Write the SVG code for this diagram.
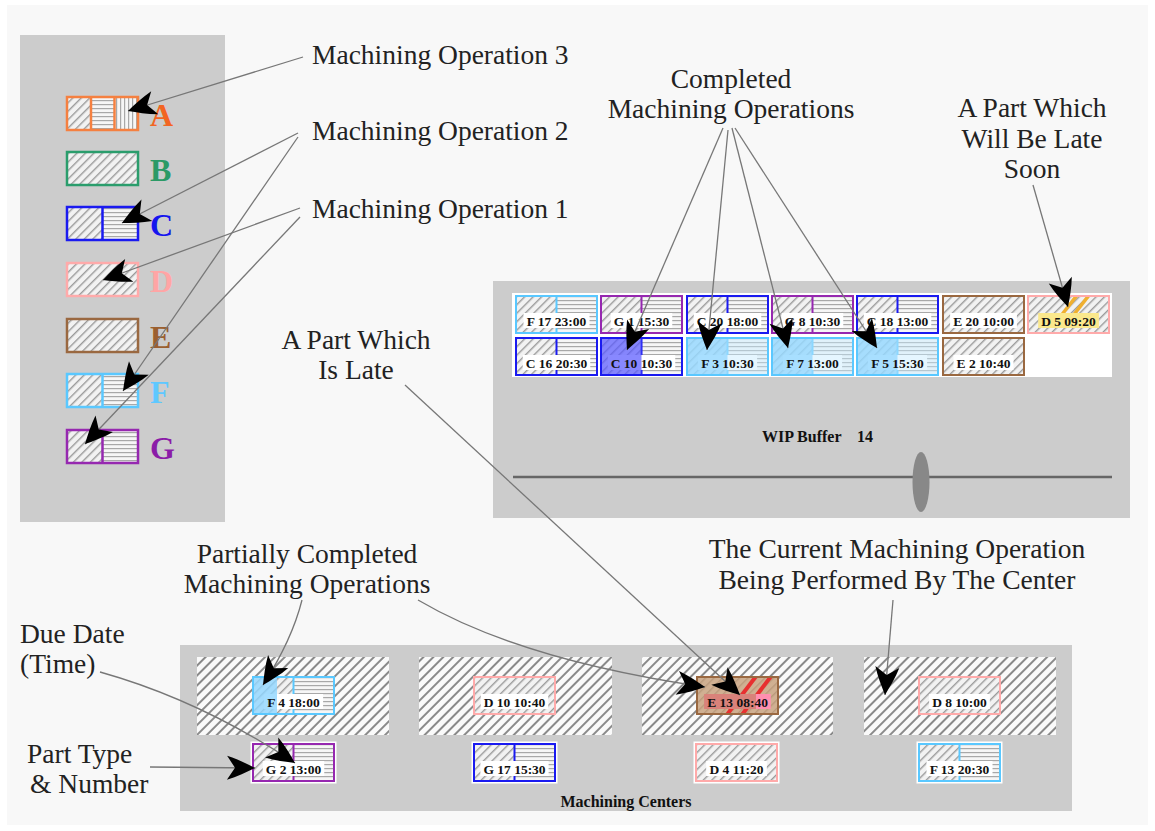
<svg xmlns="http://www.w3.org/2000/svg" xmlns:xlink="http://www.w3.org/1999/xlink" width="1155" height="831" viewBox="0 0 1155 831">
<style>
.lbl{font-family:"Liberation Serif",serif;font-size:27.5px;fill:#222}
.mid{text-anchor:middle}
.ct{font-family:"Liberation Serif",serif;font-size:13.5px;font-weight:bold;fill:#111;text-anchor:middle}
.ttl{font-family:"Liberation Serif",serif;font-size:16px;font-weight:bold;fill:#111}
.let{font-family:"Liberation Serif",serif;font-size:32px;font-weight:bold}
.bd{fill:none;stroke-width:2}
.lg{fill:none;stroke-width:2.5}
.tb{fill:#fff}
.halo{fill:#fff}
.con{fill:none;stroke:#777;stroke-width:1.3}
</style>
<defs>
<pattern id="dg" width="6" height="6" patternUnits="userSpaceOnUse" patternTransform="rotate(45)"><rect width="6" height="6" fill="#f2f2f2"/><rect width="1.4" height="6" fill="#9a9a9a"/></pattern>
<pattern id="dg2" width="7" height="7" patternUnits="userSpaceOnUse" patternTransform="rotate(45)"><rect width="7" height="7" fill="#fafafa"/><rect width="2" height="7" fill="#8a8a8a"/></pattern>
<pattern id="hz" width="4" height="4" patternUnits="userSpaceOnUse"><rect width="4" height="4" fill="#f6f6f6"/><rect width="4" height="1.2" fill="#a8a8a8"/></pattern>
<pattern id="vt" width="4" height="4" patternUnits="userSpaceOnUse"><rect width="4" height="4" fill="#f6f6f6"/><rect width="1.2" height="4" fill="#a8a8a8"/></pattern>
<g id="b1"><rect width="81" height="37" fill="url(#dg)"/></g>
<g id="b2"><rect width="40.5" height="37" fill="url(#dg)"/><rect x="40.5" width="40.5" height="37" fill="url(#hz)"/><line x1="40.5" y1="0" x2="40.5" y2="37" stroke="currentColor" stroke-width="2"/></g>
<clipPath id="clipD5"><rect x="1028" y="296" width="81" height="37"/></clipPath>
<clipPath id="clipE13"><rect x="697" y="677" width="81" height="37"/></clipPath>
<marker id="ah" viewBox="-30 -13 31 26" refX="0" refY="0" markerWidth="31" markerHeight="26" markerUnits="userSpaceOnUse" orient="auto">
<path d="M0,0 C-8,-4 -18,-9 -28,-12 L-20,0 L-28,12 C-18,9 -8,4 0,0 Z" fill="#000"/>
</marker>
</defs>

<rect width="1155" height="831" fill="#fff"/>
<rect x="7" y="5" width="1141" height="820" fill="#f8f8f8"/>

<g id="legend-panel">
<rect x="20" y="35" width="205" height="487" fill="#cccccc"/>
<g id="legend-A">
<rect x="67" y="97" width="24" height="33" fill="url(#dg)"/>
<rect x="91" y="97" width="23.5" height="33" fill="url(#hz)"/>
<rect x="114.5" y="97" width="23.5" height="33" fill="url(#vt)"/>
<line x1="91" y1="97" x2="91" y2="130" stroke="#f58040" stroke-width="2.5"/>
<line x1="114.5" y1="97" x2="114.5" y2="130" stroke="#f58040" stroke-width="2.5"/>
<rect class="lg" x="67" y="97" width="71" height="33" stroke="#f58040"/>
<text class="let" x="150" y="126" fill="#f26522">A</text>
</g>
<g id="legend-B">
<rect x="67" y="152" width="71" height="33" fill="url(#dg)"/>
<rect class="lg" x="67" y="152" width="71" height="33" stroke="#2a9d6c"/>
<text class="let" x="150" y="181" fill="#2b9a66">B</text>
</g>
<g id="legend-C">
<rect x="67" y="207" width="35.5" height="33" fill="url(#dg)"/>
<rect x="102.5" y="207" width="35.5" height="33" fill="url(#hz)"/>
<line x1="102.5" y1="207" x2="102.5" y2="240" stroke="#1a1af0" stroke-width="2.5"/>
<rect class="lg" x="67" y="207" width="71" height="33" stroke="#1a1af0"/>
<text class="let" x="150" y="236" fill="#1515ee">C</text>
</g>
<g id="legend-D">
<rect x="67" y="263" width="71" height="33" fill="url(#dg)"/>
<rect class="lg" x="67" y="263" width="71" height="33" stroke="#ffaaaa"/>
<text class="let" x="150" y="292" fill="#ffa5a5">D</text>
</g>
<g id="legend-E">
<rect x="67" y="319" width="71" height="33" fill="url(#dg)"/>
<rect class="lg" x="67" y="319" width="71" height="33" stroke="#9a6840"/>
<text class="let" x="150" y="348" fill="#9b5f2f">E</text>
</g>
<g id="legend-F">
<rect x="67" y="374" width="35.5" height="33" fill="url(#dg)"/>
<rect x="102.5" y="374" width="35.5" height="33" fill="url(#hz)"/>
<line x1="102.5" y1="374" x2="102.5" y2="407" stroke="#5ac8ff" stroke-width="2.5"/>
<rect class="lg" x="67" y="374" width="71" height="33" stroke="#5ac8ff"/>
<text class="let" x="150" y="403" fill="#5ec8ff">F</text>
</g>
<g id="legend-G">
<rect x="67" y="430" width="35.5" height="33" fill="url(#dg)"/>
<rect x="102.5" y="430" width="35.5" height="33" fill="url(#hz)"/>
<line x1="102.5" y1="430" x2="102.5" y2="463" stroke="#9628b0" stroke-width="2.5"/>
<rect class="lg" x="67" y="430" width="71" height="33" stroke="#9628b0"/>
<text class="let" x="150" y="459" fill="#8b1ca8">G</text>
</g>
</g>

<g id="wip-buffer">
<rect x="493" y="281" width="637" height="237" fill="#cccccc"/>
<rect x="512" y="293" width="600" height="84" fill="#fff"/>
<g id="wip-F17"><use href="#b2" x="516" y="296" color="#5ac8ff"/><rect class="tb" x="523.5" y="313" width="66" height="15"/><rect class="bd" x="516" y="296" width="81" height="37" stroke="#5ac8ff"/><text class="ct" x="556.5" y="326">F 17 23:00</text></g>
<g id="wip-G1"><use href="#b2" x="601" y="296" color="#9628b0"/><rect class="tb" x="610.75" y="313" width="61.5" height="15"/><rect class="bd" x="601" y="296" width="81" height="37" stroke="#9628b0"/><text class="ct" x="641.5" y="326">G 1 15:30</text></g>
<g id="wip-C20"><use href="#b2" x="687" y="296" color="#1a1af0"/><rect class="tb" x="693.75" y="313" width="67.5" height="15"/><rect class="bd" x="687" y="296" width="81" height="37" stroke="#1a1af0"/><text class="ct" x="727.5" y="326">C 20 18:00</text></g>
<g id="wip-G8"><use href="#b2" x="772" y="296" color="#9628b0"/><rect class="tb" x="781.75" y="313" width="61.5" height="15"/><rect class="bd" x="772" y="296" width="81" height="37" stroke="#9628b0"/><text class="ct" x="812.5" y="326">G 8 10:30</text></g>
<g id="wip-C18"><use href="#b2" x="857" y="296" color="#1a1af0"/><rect class="tb" x="863.75" y="313" width="67.5" height="15"/><rect class="bd" x="857" y="296" width="81" height="37" stroke="#1a1af0"/><text class="ct" x="897.5" y="326">C 18 13:00</text></g>
<g id="wip-E20"><use href="#b1" x="943" y="296"/><rect class="tb" x="950.1" y="313" width="66.8" height="15"/><rect class="bd" x="943" y="296" width="81" height="37" stroke="#9a6840"/><text class="ct" x="983.5" y="326">E 20 10:00</text></g>
<g id="wip-D5"><use href="#b1" x="1028" y="296"/>
<g clip-path="url(#clipD5)" stroke="#f0b030" stroke-width="3.5"><line x1="1060" y1="317" x2="1078" y2="294"/><line x1="1072" y1="317" x2="1090" y2="294"/></g>
<rect x="1038.2" y="313" width="60.7" height="15" fill="#fbe88c"/><rect class="bd" x="1028" y="296" width="81" height="37" stroke="#ffaaaa"/><text class="ct" x="1068.5" y="326">D 5 09:20</text></g>
<g id="wip-C16"><use href="#b2" x="516" y="338" color="#1a1af0"/><rect class="tb" x="522.75" y="355" width="67.5" height="15"/><rect class="bd" x="516" y="338" width="81" height="37" stroke="#1a1af0"/><text class="ct" x="556.5" y="368">C 16 20:30</text></g>
<g id="wip-C10"><use href="#b2" x="601" y="338" color="#1a1af0"/><rect class="tb" x="607.75" y="355" width="67.5" height="15"/><rect x="601" y="338" width="40.5" height="37" fill="#5a5aff" opacity="0.72"/><rect class="bd" x="601" y="338" width="81" height="37" stroke="#1a1af0"/><text class="ct" x="641.5" y="368">C 10 10:30</text></g>
<g id="wip-F3"><use href="#b2" x="687" y="338" color="#5ac8ff"/><rect class="tb" x="697.9" y="355" width="59.2" height="15"/><rect x="687" y="338" width="81" height="37" fill="#c6ecff" opacity="0.45"/><rect x="687" y="338" width="40.5" height="37" fill="#8fd6ff" opacity="0.7"/><rect class="bd" x="687" y="338" width="81" height="37" stroke="#5ac8ff"/><text class="ct" x="727.5" y="368">F 3 10:30</text></g>
<g id="wip-F7"><use href="#b2" x="772" y="338" color="#5ac8ff"/><rect class="tb" x="782.9" y="355" width="59.2" height="15"/><rect x="772" y="338" width="81" height="37" fill="#c6ecff" opacity="0.45"/><rect x="772" y="338" width="40.5" height="37" fill="#8fd6ff" opacity="0.7"/><rect class="bd" x="772" y="338" width="81" height="37" stroke="#5ac8ff"/><text class="ct" x="812.5" y="368">F 7 13:00</text></g>
<g id="wip-F5"><use href="#b2" x="857" y="338" color="#5ac8ff"/><rect class="tb" x="867.9" y="355" width="59.2" height="15"/><rect x="857" y="338" width="81" height="37" fill="#c6ecff" opacity="0.45"/><rect x="857" y="338" width="40.5" height="37" fill="#8fd6ff" opacity="0.7"/><rect class="bd" x="857" y="338" width="81" height="37" stroke="#5ac8ff"/><text class="ct" x="897.5" y="368">F 5 15:30</text></g>
<g id="wip-E2"><use href="#b1" x="943" y="338"/><rect class="tb" x="953.5" y="355" width="60" height="15"/><rect class="bd" x="943" y="338" width="81" height="37" stroke="#9a6840"/><text class="ct" x="983.5" y="368">E 2 10:40</text></g>
<text class="ttl" y="442"><tspan x="762">WIP Buffer</tspan><tspan x="857">14</tspan></text>
<line x1="513" y1="477" x2="1112" y2="477" stroke="#666" stroke-width="2.5"/>
<ellipse cx="921" cy="482" rx="8.5" ry="30" fill="#888"/>
</g>

<g id="machining-centers">
<rect x="180" y="645" width="892" height="166" fill="#cccccc"/>
<rect x="197" y="657" width="192" height="78" fill="url(#dg2)"/>
<rect x="419" y="657" width="193" height="78" fill="url(#dg2)"/>
<rect x="642" y="657" width="191" height="78" fill="url(#dg2)"/>
<rect x="864" y="657" width="192" height="78" fill="url(#dg2)"/>
<g id="mc-F4"><use href="#b2" x="253" y="677" color="#5ac8ff"/><rect class="tb" x="263.9" y="694" width="59.2" height="15"/><rect x="253" y="677" width="24" height="37" fill="#8fd6ff" opacity="0.8"/><rect class="bd" x="253" y="677" width="81" height="37" stroke="#5ac8ff"/><text class="ct" x="293.5" y="707">F 4 18:00</text></g>
<g id="mc-D10"><use href="#b1" x="474" y="677"/><rect class="tb" x="480.75" y="694" width="67.5" height="15"/><rect class="bd" x="474" y="677" width="81" height="37" stroke="#ffaaaa"/><text class="ct" x="514.5" y="707">D 10 10:40</text></g>
<g id="mc-E13"><use href="#b1" x="697" y="677"/><rect x="697" y="677" width="81" height="37" fill="#c49a72" opacity="0.75"/>
<g clip-path="url(#clipE13)" stroke="#e83030" stroke-width="4"><line x1="726" y1="716" x2="757" y2="675"/><line x1="741" y1="716" x2="772" y2="675"/></g>
<rect x="704.1" y="694" width="52" height="15" fill="#d9827a"/><rect x="756" y="694" width="14.8" height="15" fill="#ff8fb0"/><rect class="bd" x="697" y="677" width="81" height="37" stroke="#9a6840"/><text class="ct" x="737.5" y="707">E 13 08:40</text></g>
<g id="mc-D8"><use href="#b1" x="919" y="677"/><rect class="tb" x="929.15" y="694" width="60.7" height="15"/><rect class="bd" x="919" y="677" width="81" height="37" stroke="#ffaaaa"/><text class="ct" x="959.5" y="707">D 8 10:00</text></g>
<g id="mc-G2"><rect class="halo" x="250.5" y="741.5" width="86" height="42"/><use href="#b2" x="253" y="744" color="#9628b0"/><rect class="tb" x="262.75" y="761" width="61.5" height="15"/><rect class="bd" x="253" y="744" width="81" height="37" stroke="#9628b0"/><text class="ct" x="293.5" y="774">G 2 13:00</text></g>
<g id="mc-G17"><rect class="halo" x="471.5" y="741.5" width="86" height="42"/><use href="#b2" x="474" y="744" color="#1a1af0"/><rect class="tb" x="480.4" y="761" width="68.2" height="15"/><rect class="bd" x="474" y="744" width="81" height="37" stroke="#1a1af0"/><text class="ct" x="514.5" y="774">G 17 15:30</text></g>
<g id="mc-D4"><rect class="halo" x="693.5" y="741.5" width="86" height="42"/><use href="#b1" x="696" y="744"/><rect class="tb" x="706.15" y="761" width="60.7" height="15"/><rect class="bd" x="696" y="744" width="81" height="37" stroke="#ffaaaa"/><text class="ct" x="736.5" y="774">D 4 11:20</text></g>
<g id="mc-F13"><rect class="halo" x="916.5" y="741.5" width="86" height="42"/><use href="#b2" x="919" y="744" color="#5ac8ff"/><rect class="tb" x="926.5" y="761" width="66" height="15"/><rect class="bd" x="919" y="744" width="81" height="37" stroke="#5ac8ff"/><text class="ct" x="959.5" y="774">F 13 20:30</text></g>
<text class="ttl" x="626" y="807" text-anchor="middle">Machining Centers</text>
</g>

<g id="labels">
<text class="lbl" x="312" y="64">Machining Operation 3</text>
<text class="lbl" x="312" y="140">Machining Operation 2</text>
<text class="lbl" x="312" y="218">Machining Operation 1</text>
<text class="lbl mid" x="731" y="88">Completed</text>
<text class="lbl mid" x="731" y="118">Machining Operations</text>
<text class="lbl mid" x="1032" y="117">A Part Which</text>
<text class="lbl mid" x="1032" y="148">Will Be Late</text>
<text class="lbl mid" x="1032" y="178">Soon</text>
<text class="lbl mid" x="356" y="349">A Part Which</text>
<text class="lbl mid" x="356" y="379">Is Late</text>
<text class="lbl mid" x="307" y="563">Partially Completed</text>
<text class="lbl mid" x="307" y="593">Machining Operations</text>
<text class="lbl mid" x="897" y="558">The Current Machining Operation</text>
<text class="lbl mid" x="897" y="589">Being Performed By The Center</text>
<text class="lbl" x="20" y="643">Due Date</text>
<text class="lbl" x="20" y="673">(Time)</text>
<text class="lbl" x="27" y="763">Part Type</text>
<text class="lbl" x="30" y="793">&amp; Number</text>
</g>

<g id="connectors" class="con" marker-end="url(#ah)">
<path class="con" marker-end="url(#ah)" d="M303,57 L128,111"/>
<path class="con" marker-end="url(#ah)" d="M298,133 L122,223"/>
<path class="con" marker-end="url(#ah)" d="M298,137 L123,391"/>
<path class="con" marker-end="url(#ah)" d="M300,208 L103,280"/>
<path class="con" marker-end="url(#ah)" d="M300,217 L85,444"/>
<path class="con" marker-end="url(#ah)" d="M723,128 L627,350"/>
<path class="con" marker-end="url(#ah)" d="M728,130 L707,350"/>
<path class="con" marker-end="url(#ah)" d="M732,128 L788,348"/>
<path class="con" marker-end="url(#ah)" d="M735,128 L877,348"/>
<path class="con" marker-end="url(#ah)" d="M1033,185 L1068,307"/>
<path class="con" marker-end="url(#ah)" d="M405,385 L740,695"/>
<path class="con" marker-end="url(#ah)" d="M302,600 Q292,640 263,685"/>
<path class="con" marker-end="url(#ah)" d="M418,600 Q520,660 705,687"/>
<path class="con" marker-end="url(#ah)" d="M100,672 Q200,700 295,763"/>
<path class="con" marker-end="url(#ah)" d="M150,767 L255,768"/>
<path class="con" marker-end="url(#ah)" d="M893,600 L885,695"/>
</g>
</svg>
